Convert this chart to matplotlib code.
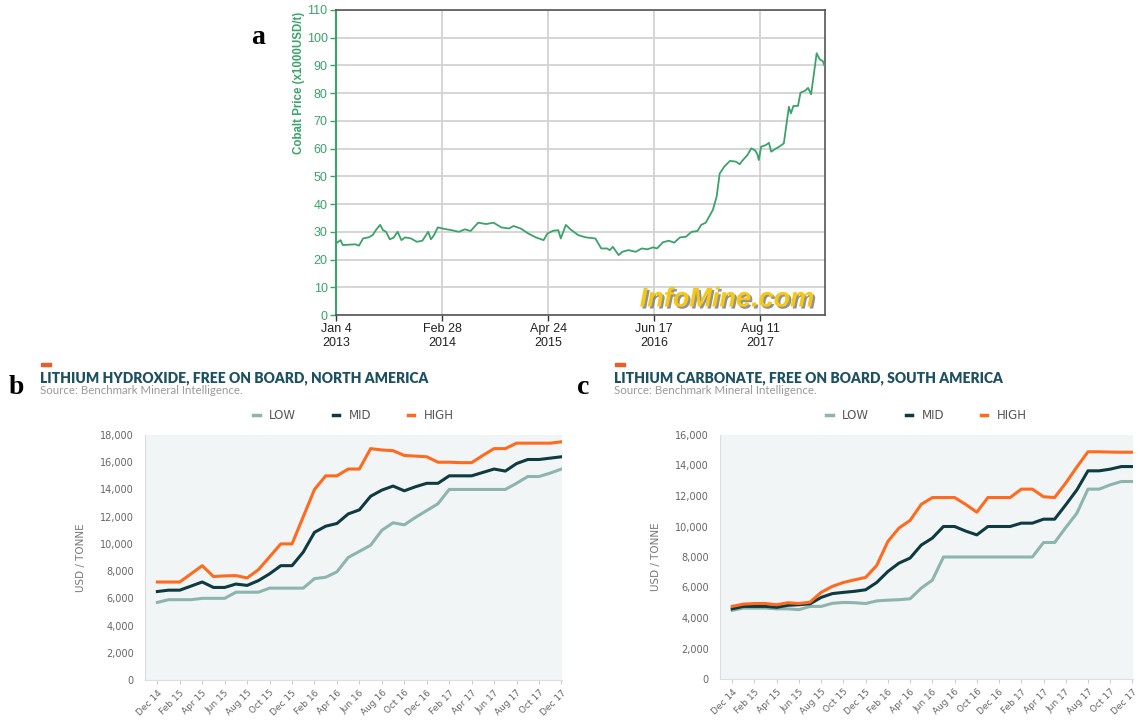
import numpy as np
import matplotlib.pyplot as plt
import matplotlib.patheffects as pe
from matplotlib.lines import Line2D

# ---- panel a: cobalt price (days since Jan 4 2013, x1000 USD/t)
cobalt_days = [0, 18, 27, 76, 91, 107, 129, 145, 160, 175, 186, 198, 213, 228, 244,
               259, 274, 297, 320, 342, 365, 376, 388, 403, 426, 457, 487, 510, 533,
               563, 594, 624, 654, 685, 703, 731, 761, 791, 822, 837, 860, 880, 890,
               910, 928, 959, 989, 1027, 1050, 1073, 1084, 1096, 1119, 1134, 1157,
               1187, 1210, 1233, 1256, 1271, 1294, 1317, 1339, 1362, 1385, 1408, 1431,
               1446, 1464, 1492, 1507, 1519, 1537, 1560, 1583, 1598, 1613, 1629, 1644,
               1660, 1668, 1674, 1683, 1702, 1714, 1723, 1743, 1758, 1773, 1793, 1801,
               1811, 1829, 1839, 1857, 1869, 1881, 1903, 1915, 1927, 1936]
cobalt_price = [25.8, 27.0, 25.2, 25.5, 25.0, 27.6, 28.0, 28.8, 30.9, 32.5, 30.6, 30.0,
                27.3, 27.9, 30.0, 27.0, 28.0, 27.6, 26.4, 26.8, 30.0, 27.3, 28.8, 31.6,
                31.1, 30.6, 30.0, 30.9, 30.3, 33.3, 32.8, 33.3, 31.6, 31.2, 32.1, 31.2,
                29.4, 28.0, 27.0, 29.4, 30.4, 30.6, 27.6, 32.5, 30.9, 28.8, 28.0, 27.6,
                24.0, 24.0, 23.4, 24.6, 21.6, 22.8, 23.4, 22.8, 24.0, 23.7, 24.4, 24.0,
                26.2, 26.8, 26.1, 28.0, 28.2, 30.0, 30.3, 32.5, 33.3, 37.9, 42.7, 51.0,
                53.5, 55.6, 55.3, 54.4, 56.1, 57.7, 60.1, 59.3, 58.0, 55.9, 60.7, 61.3,
                62.1, 58.9, 60.1, 60.9, 61.9, 75.1, 72.7, 75.4, 75.4, 80.2, 80.9, 81.9,
                79.6, 94.4, 92.2, 91.6, 89.5]
cobalt_tick_days = [0, 420, 840, 1260, 1680]
cobalt_tick_labels = ["Jan 4\n2013", "Feb 28\n2014", "Apr 24\n2015", "Jun 17\n2016", "Aug 11\n2017"]

# ---- panels b, c: monthly lithium prices, Dec 14 .. Dec 17 (USD / tonne)
month_labels = ["Dec 14", "Feb 15", "Apr 15", "Jun 15", "Aug 15", "Oct 15", "Dec 15",
                "Feb 16", "Apr 16", "Jun 16", "Aug 16", "Oct 16", "Dec 16",
                "Feb 17", "Apr 17", "Jun 17", "Aug 17", "Oct 17", "Dec 17"]

hyd_high = [7200, 7200, 7200, 7800, 8400, 7600, 7650, 7670, 7500, 8100, 9050, 10000,
            10000, 12000, 14000, 15000, 15000, 15500, 15500, 17000, 16900, 16850, 16500,
            16450, 16400, 16000, 16000, 15970, 15970, 16500, 17000, 17000, 17400, 17400,
            17400, 17400, 17500]
hyd_mid = [6500, 6600, 6600, 6900, 7200, 6800, 6800, 7050, 6950, 7300, 7800, 8400, 8400,
           9400, 10850, 11300, 11500, 12200, 12500, 13500, 13950, 14250, 13900, 14200,
           14450, 14450, 15000, 15000, 15000, 15250, 15500, 15350, 15900, 16200, 16200,
           16300, 16400]
hyd_low = [5700, 5900, 5900, 5900, 6000, 6000, 6000, 6450, 6450, 6450, 6750, 6750, 6750,
           6750, 7450, 7550, 7950, 9000, 9450, 9900, 11000, 11550, 11400, 11950, 12450,
           12950, 14000, 14000, 14000, 14000, 14000, 14000, 14450, 14950, 14950, 15200,
           15500]

carb_high = [4760, 4910, 4950, 4950, 4870, 5000, 4950, 5040, 5680, 6070, 6330, 6500, 6660,
             7450, 9020, 9900, 10400, 11450, 11900, 11900, 11900, 11450, 10940, 11900,
             11900, 11900, 12450, 12450, 11950, 11900, 12850, 13900, 14900, 14900, 14880,
             14870, 14870]
carb_mid = [4600, 4760, 4760, 4760, 4700, 4830, 4870, 4930, 5350, 5600, 5680, 5750, 5850,
            6330, 7050, 7600, 7930, 8780, 9240, 10000, 10000, 9700, 9450, 10000, 10000,
            10000, 10220, 10220, 10480, 10480, 11420, 12400, 13650, 13650, 13760, 13930,
            13930]
carb_low = [4500, 4650, 4650, 4650, 4600, 4600, 4550, 4760, 4760, 4960, 5020, 5000, 4950,
            5120, 5170, 5200, 5260, 5960, 6480, 8000, 8000, 8000, 8000, 8000, 8000, 8000,
            8000, 8000, 8950, 8950, 9930, 10870, 12450, 12450, 12730, 12950, 12950]

GREEN = "#3aa36a"
LOW_C, MID_C, HIGH_C = "#8db5ae", "#0f3a40", "#ff6a1f"
TITLE_C = "#1d5060"

fig = plt.figure(figsize=(11.4, 7.21), dpi=100)

# ================= panel a
ax = fig.add_axes([336 / 1140, 1 - 315 / 721, 489 / 1140, 305 / 721])
ax.plot(cobalt_days, cobalt_price, color=GREEN, lw=1.3, zorder=3)
ax.set_xlim(0, 1936)
ax.set_ylim(0, 110)
ax.set_yticks(np.arange(0, 111, 10))
ax.set_xticks(cobalt_tick_days)
ax.set_xticklabels(cobalt_tick_labels, fontsize=9, family="Liberation Sans", color="#222222")
ax.tick_params(axis="y", colors=GREEN, labelsize=9, length=4, width=1, pad=2)
ax.tick_params(axis="x", length=4, width=1, color="#333333", pad=2)
for lab in ax.get_yticklabels():
    lab.set_family("Liberation Sans")
ax.grid(color="#d2d2d2", lw=1.3)
ax.set_axisbelow(True)
ax.spines["left"].set_color(GREEN)
ax.spines["left"].set_linewidth(1.5)
for s in ["top", "right", "bottom"]:
    ax.spines[s].set_color("#555555")
    ax.spines[s].set_linewidth(1.2)
ax.set_ylabel("Cobalt Price (x1000USD/t)", color=GREEN, fontsize=8.3,
              fontweight="bold", family="Liberation Sans")
ax.yaxis.set_label_coords(-0.064, 0.76)
ax.text(0.80, 0.028, "InfoMine.com", transform=ax.transAxes, ha="center", va="baseline",
        fontsize=19.5, fontweight="bold", style="italic", family="Liberation Sans",
        color="#f6c813",
        path_effects=[pe.withSimplePatchShadow(offset=(1.5, -1.5), shadow_rgbFace="#777777", alpha=0.8)])
fig.text(258 / 1140, 1 - 37 / 721, "a", fontsize=20, fontweight="bold",
         family="Liberation Serif", ha="center", va="center")


def lithium_panel(rect, high, mid, low, ymax, title, letter, letter_x, title_x):
    axl = fig.add_axes(rect)
    axl.set_facecolor("#f1f5f5")
    months = np.arange(len(high))
    axl.plot(months, low, color=LOW_C, lw=2.2, label="LOW")
    axl.plot(months, mid, color=MID_C, lw=2.2, label="MID")
    axl.plot(months, high, color=HIGH_C, lw=2.2, label="HIGH")
    axl.set_xlim(-1.1, 36.05)
    axl.set_ylim(0, ymax)
    axl.set_yticks(np.arange(0, ymax + 1, 2000))
    axl.set_yticklabels([f"{v:,}" for v in range(0, ymax + 1, 2000)])
    axl.set_xticks(months[::2])
    axl.set_xticklabels(month_labels, rotation=45, ha="right", rotation_mode="anchor")
    axl.tick_params(axis="y", length=0, labelsize=7, labelcolor="#666666", pad=8)
    axl.tick_params(axis="x", length=3, color="#cccccc", labelsize=6.5, labelcolor="#666666", pad=3)
    for s in ["top", "right"]:
        axl.spines[s].set_visible(False)
    for s in ["left", "bottom"]:
        axl.spines[s].set_color("#dddddd")
        axl.spines[s].set_linewidth(0.8)
    axl.set_ylabel("USD / TONNE", fontsize=7.5, color="#777777", labelpad=10)
    handles = [Line2D([], [], color=c, lw=2.5) for c in (LOW_C, MID_C, HIGH_C)]
    leg = axl.legend(handles, ["LOW", "MID", "HIGH"], loc="lower center",
                     bbox_to_anchor=(0.5, 1.01), ncol=3, frameon=False, fontsize=8.5,
                     handlelength=0.55, handletextpad=0.8, columnspacing=3.1)
    for t in leg.get_texts():
        t.set_color("#555555")
    fig.text(title_x / 1140, 1 - 378 / 721, title, fontsize=10, fontweight="heavy",
             family="Lato", color=TITLE_C, va="center")
    fig.text(title_x / 1140, 1 - 391 / 721, "Source: Benchmark Mineral Intelligence.",
             fontsize=8.3, family="Lato", color="#9a9a9a", va="center")
    fig.patches.append(plt.Rectangle(((title_x + 0.5) / 1140, 1 - 366 / 721), 10 / 1140, 3.5 / 721,
                                     transform=fig.transFigure, color="#f05a28"))
    fig.text(letter_x / 1140, 1 - 388 / 721, letter, fontsize=20, fontweight="bold",
             family="Liberation Serif", ha="center", va="center")
    return axl


lithium_panel([145 / 1140, 1 - 680 / 721, 417 / 1140, 245 / 721], hyd_high, hyd_mid, hyd_low,
              18000, "LITHIUM HYDROXIDE, FREE ON BOARD, NORTH AMERICA", "b", 16, 40)
lithium_panel([720 / 1140, 1 - 679 / 721, 413 / 1140, 244 / 721], carb_high, carb_mid, carb_low,
              16000, "LITHIUM CARBONATE, FREE ON BOARD, SOUTH AMERICA", "c", 583, 614)

fig.savefig("out.png", dpi=100)
